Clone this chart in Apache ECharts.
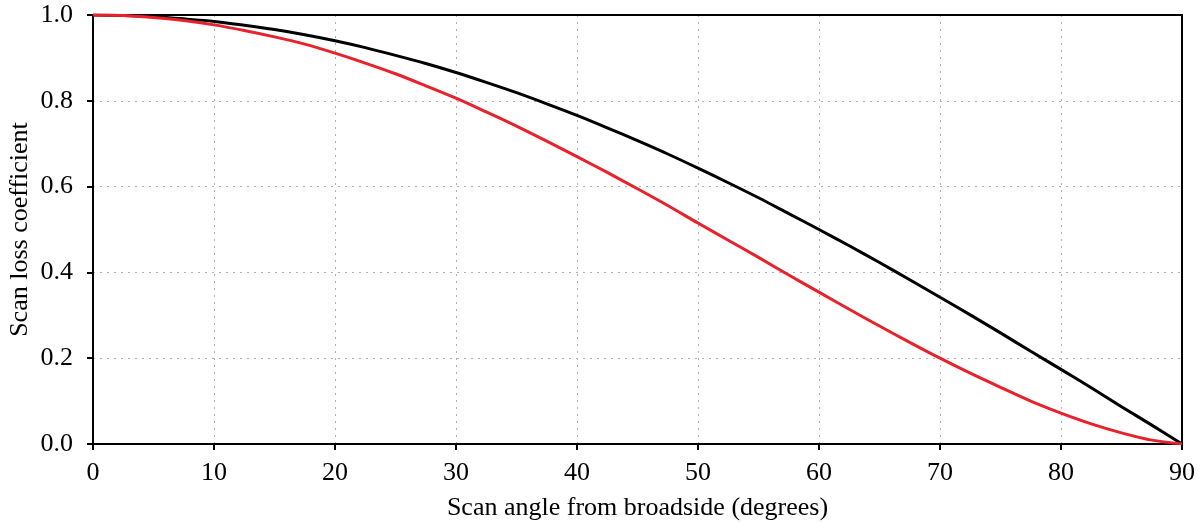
<!DOCTYPE html>
<html>
<head>
<meta charset="utf-8">
<script src="https://cdn.jsdelivr.net/npm/echarts@6/dist/echarts.min.js"></script>
<style>
html,body{margin:0;padding:0;background:#fff;}
#chart{width:1203px;height:523px;}
</style>
</head>
<body>
<div id="chart"></div>
<script>
// Scan angle (degrees)
const angles = [0,2.5,5,7.5,10,12.5,15,17.5,20,22.5,25,27.5,30,32.5,35,37.5,40,42.5,45,47.5,50,52.5,55,57.5,60,62.5,65,67.5,70,72.5,75,77.5,80,82.5,85,87.5,90];
// Black curve
const blackValues = [1.000,0.999,0.996,0.991,0.985,0.976,0.966,0.954,0.940,0.924,0.906,0.887,0.866,0.843,0.819,0.793,0.766,0.737,0.707,0.676,0.643,0.609,0.574,0.537,0.500,0.462,0.423,0.383,0.342,0.301,0.259,0.216,0.174,0.131,0.087,0.044,0.000];
// Red curve
const redValues = [1.000,0.999,0.994,0.987,0.977,0.964,0.949,0.932,0.911,0.888,0.863,0.835,0.806,0.774,0.741,0.706,0.670,0.633,0.595,0.556,0.515,0.475,0.435,0.394,0.354,0.314,0.275,0.237,0.200,0.165,0.132,0.100,0.072,0.047,0.026,0.009,0.000];
const xTicks = [0,10,20,30,40,50,60,70,80,90];
const yTicks = [0.0,0.2,0.4,0.6,0.8,1.0];

const font = 'Liberation Serif';
const chart = echarts.init(document.getElementById('chart'), null, {renderer:'canvas'});
const frameAxis = {
  type:'value',axisLine:{show:true,onZero:false,lineStyle:{color:'#000',width:2}},
  axisTick:{show:false},axisLabel:{show:false},splitLine:{show:false}
};
chart.setOption({
  animation:false,
  backgroundColor:'#fff',
  grid:{left:93,right:21,top:15,bottom:79,show:false,containLabel:false,outerBoundsMode:'none'},
  xAxis:[{
    type:'value',min:xTicks[0],max:xTicks[xTicks.length-1],interval:10,
    name:'Scan angle from broadside (degrees)',nameLocation:'middle',nameGap:51,
    nameTextStyle:{fontFamily:font,fontSize:26,color:'#000'},
    axisLine:{show:true,onZero:false,lineStyle:{color:'#000',width:2}},
    axisTick:{show:true,length:6,inside:false,lineStyle:{color:'#000',width:2}},
    axisLabel:{fontFamily:font,fontSize:26,color:'#000',margin:16,formatter:v=>String(v)},
    splitLine:{show:true,showMinLine:false,showMaxLine:false,lineStyle:{color:'#b0b0b0',width:1,type:[2,5]}}
  },Object.assign({},frameAxis,{position:'top',min:0,max:90})],
  yAxis:[{
    type:'value',min:yTicks[0],max:yTicks[yTicks.length-1],interval:0.2,
    name:'Scan loss coefficient',nameLocation:'middle',nameGap:60,nameMoveOverlap:false,
    nameTextStyle:{fontFamily:font,fontSize:26,color:'#000'},
    axisLine:{show:true,onZero:false,lineStyle:{color:'#000',width:2}},
    axisTick:{show:true,length:6,inside:false,lineStyle:{color:'#000',width:2}},
    axisLabel:{fontFamily:font,fontSize:26,color:'#000',margin:20,formatter:v=>v.toFixed(1)},
    splitLine:{show:true,showMinLine:false,showMaxLine:false,lineStyle:{color:'#b0b0b0',width:1,type:[2,5]}}
  },Object.assign({},frameAxis,{position:'right',min:0,max:1})],
  series:[
    {type:'line',xAxisIndex:0,yAxisIndex:0,data:angles.map((a,i)=>[a,blackValues[i]]),showSymbol:false,smooth:0.3,
     lineStyle:{color:'#000',width:3},itemStyle:{color:'#000'},z:3},
    {type:'line',xAxisIndex:0,yAxisIndex:0,data:angles.map((a,i)=>[a,redValues[i]]),showSymbol:false,smooth:0.3,
     lineStyle:{color:'#e8212a',width:3},itemStyle:{color:'#e8212a'},z:4}
  ]
});
</script>
</body>
</html>
